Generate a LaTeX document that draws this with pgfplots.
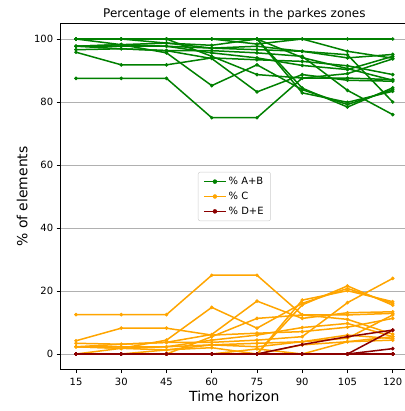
\documentclass[border=0pt]{standalone}
\usepackage{fontspec}
\setmainfont{DejaVu Sans}
\usepackage{pgfplots}
\usepackage{pgfplotstable}
\pgfplotsset{compat=1.18}
\definecolor{mgreen}{HTML}{008000}
\definecolor{morange}{HTML}{FFA500}
\definecolor{mdred}{HTML}{8B0000}
\definecolor{mgrid}{HTML}{B0B0B0}
\definecolor{mleg}{HTML}{CCCCCC}

% % A+B per zone
\pgfplotstableread{
t   Z1  Z2   Z3   Z4   Z5   Z6   Z7   Z8   Z9   Z10  Z11  Z12  Z13  Z14
15  100 87.5 95.8 97.7 96.6 100  100  97.7 100  97.7 100  100  97.7 100
30  100 87.5 91.8 98.2 96.9 100  100  96.9 98.2 97.7 100  100  98.2 100
45  100 87.5 91.8 95.6 96.3 98.7 100  96.3 98.7 97.7 100  100  97.7 100
60  100 75.0 94.0 85.2 93.8 98.0 100  96.3 97.1 95.6 94.5 100  97.1 100
75  100 75.0 93.4 91.8 83.2 100  100  95.6 96.6 94.0 88.7 100  97.7 98.4
90  100 87.6 92.9 83.9 88.7 84.4 82.9 94.5 96.1 91.6 87.6 94.1 96.1 100
105 100 87.6 91.5 79.2 86.9 78.4 79.9 83.7 94.0 90.3 89.0 90.6 95.0 96.1
120 100 87.1 88.7 83.9 86.6 84.5 83.4 76.0 95.1 94.5 93.7 86.9 80.0 93.9
}\tabAB

% % C per zone
\pgfplotstableread{
t   Z1 Z2   Z3   Z4   Z5   Z6   Z7   Z8   Z9  Z10  Z11  Z12 Z13  Z14
15  0  12.5 4.2  2.3  3.4  0    0    2.3  0   2.3  0    0   2.3  0
30  0  12.5 8.2  1.8  3.1  0    0    3.1  1.8 2.3  0    0   1.8  0
45  0  12.5 8.2  4.4  3.7  1.3  0    3.7  1.3 2.3  0    0   2.3  0
60  0  25.0 6.0  14.8 6.2  2.0  0    3.7  2.9 4.4  5.5  0   2.9  0
75  0  25.0 6.6  8.2  16.8 0    0    4.4  3.4 6.0  11.3 0   2.3  1.6
90  0  12.4 7.1  16.1 11.3 15.6 17.1 5.5  3.9 8.4  12.4 2.9 3.9  0
105 0  12.4 8.5  20.8 13.1 21.6 20.1 16.3 6.0 9.7  11.0 3.9 5.0  3.9
120 0  12.9 11.3 16.1 13.4 15.5 16.6 24.0 4.9 5.5  6.3  5.5 12.4 4.4
}\tabC

% % D+E per zone
\pgfplotstableread{
t   Z1 Z2 Z3 Z4 Z5 Z6 Z7 Z8 Z9 Z10 Z11 Z12 Z13 Z14
15  0  0  0  0  0  0  0  0  0  0   0   0   0   0
30  0  0  0  0  0  0  0  0  0  0   0   0   0   0
45  0  0  0  0  0  0  0  0  0  0   0   0   0   0
60  0  0  0  0  0  0  0  0  0  0   0   0   0   0
75  0  0  0  0  0  0  0  0  0  0   0   0   0   0
90  0  0  0  0  0  0  0  0  0  0   0   3.0 0   0
105 0  0  0  0  0  0  0  0  0  0   0   5.5 0   0
120 0  0  0  0  0  0  0  0  0  0   0   7.6 7.6 1.7
}\tabDE

\pgfplotsset{
  serab/.style={mgreen, line width=1.5bp, mark=*, mark size=1.4bp, mark options={solid, line width=0.8bp}},
  serc/.style={morange, line width=1.5bp, mark=*, mark size=1.4bp, mark options={solid, line width=0.8bp}},
  serde/.style={mdred, line width=1.5bp, mark=*, mark size=1.4bp, mark options={solid, line width=0.8bp}},
}

\begin{document}
\begin{tikzpicture}
\begin{axis}[
  at={(0,0)}, anchor=south west,
  scale only axis,
  width=348.4bp, height=346.5bp,
  xmin=9.75, xmax=125.25,
  ymin=-5, ymax=105,
  xtick={15,30,45,60,75,90,105,120},
  ytick={0,20,40,60,80,100},
  xtick pos=left, ytick pos=left,
  tick align=outside,
  major tick length=3.5bp,
  tick style={black, line width=0.8bp},
  axis line style={black, line width=0.8bp},
  ymajorgrids,
  grid style={mgrid, line width=0.8bp},
  /pgf/number format/assume math mode=true,
  ticklabel style={font=\fontsize{10}{12}\selectfont},
  xticklabel style={yshift=-1.5bp},
  title={Percentage of elements in the parkes zones},
  title style={font=\fontsize{12}{14}\selectfont, at={(0.5,1)}, anchor=south, inner sep=0pt, yshift=-3bp},
  xlabel={Time horizon},
  xlabel style={font=\fontsize{14}{16}\selectfont, at={(0.5,0)}, anchor=north, inner sep=0pt, yshift=-21bp},
  ylabel={\% of elements},
  ylabel style={font=\fontsize{14}{16}\selectfont, at={(0,0.5)}, anchor=south, inner sep=0pt, xshift=0bp, yshift=32.5bp},
  legend style={at={(0.5,0.5)}, anchor=center, draw=mleg, rounded corners=2bp,
    fill=white, fill opacity=0.8, text opacity=1, draw opacity=1,
    font=\fontsize{10}{12}\selectfont, inner xsep=5bp, inner ysep=3bp, row sep=2bp},
  legend cell align=left,
]
\pgfplotsinvokeforeach{1,...,14}{
  \addplot[serab, forget plot] table[x=t, y=Z#1]{\tabAB};
}
\pgfplotsinvokeforeach{1,...,14}{
  \addplot[serc, forget plot] table[x=t, y=Z#1]{\tabC};
}
\pgfplotsinvokeforeach{1,...,14}{
  \addplot[serde, forget plot] table[x=t, y=Z#1]{\tabDE};
}
\addlegendimage{legend image code/.code={\draw[mgreen, line width=1.5bp, opacity=1] (0bp,0bp)--(22bp,0bp); \fill[mgreen, opacity=1] (11bp,0bp) circle[radius=2bp];}}
\addlegendentry{\% A+B}
\addlegendimage{legend image code/.code={\draw[morange, line width=1.5bp, opacity=1] (0bp,0bp)--(22bp,0bp); \fill[morange, opacity=1] (11bp,0bp) circle[radius=2bp];}}
\addlegendentry{\% C}
\addlegendimage{legend image code/.code={\draw[mdred, line width=1.5bp, opacity=1] (0bp,0bp)--(22bp,0bp); \fill[mdred, opacity=1] (11bp,0bp) circle[radius=2bp];}}
\addlegendentry{\% D+E}
\end{axis}
\pgfresetboundingbox
\useasboundingbox (-60.17bp,-41.25bp) rectangle (344.83bp,369.75bp);
\end{tikzpicture}
\end{document}
